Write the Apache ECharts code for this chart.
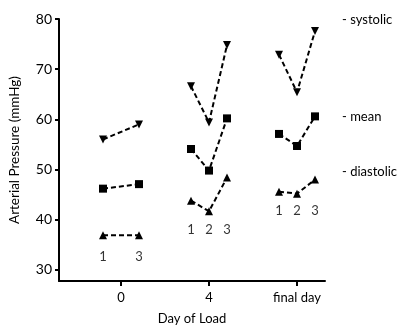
<!DOCTYPE html>
<html><head><meta charset="utf-8">
<script src="https://cdn.jsdelivr.net/npm/echarts@6/dist/echarts.min.js"></script>
<style>html,body{margin:0;padding:0;background:#fff}#c{width:405px;height:330px}</style>
</head><body><div id="c"></div>
<script>
const days = ['0', '4', 'final day'];
const subDays = [[1, 3], [1, 2, 3], [1, 2, 3]];
const systolic = [[56.0, 59.0], [66.6, 59.4, 74.8], [72.9, 65.4, 77.6]];
const mean = [[46.2, 47.1], [54.1, 49.8, 60.2], [57.1, 54.7, 60.6]];
const diastolic = [[36.9, 36.9], [43.8, 41.7, 48.4], [45.6, 45.2, 48.0]];
const yTicks = [30, 40, 50, 60, 70, 80];
const measureNames = ['systolic', 'mean', 'diastolic'];

// layout constants
const SUB_STEP = 0.2045;            // spacing of sub-days within a day group
const subLabelY = [32.6, 37.9, 41.7]; // vertical placement of the 1/2/3 labels
const FONT = 'Lato, "Open Sans", sans-serif';

function xOf(g, s) { return g + (s - 2) * SUB_STEP; }

const measures = [
  { name: 'systolic', data: systolic, symbol: 'triangle', rotate: 180, size: 8 },
  { name: 'mean', data: mean, symbol: 'rect', rotate: 0, size: 8 },
  { name: 'diastolic', data: diastolic, symbol: 'triangle', rotate: 0, size: 8 }
];

const series = [];
measures.forEach(m => {
  days.forEach((d, g) => {
    series.push({
      type: 'line',
      name: m.name,
      data: subDays[g].map((s, i) => [xOf(g, s), m.data[g][i]]),
      symbol: m.symbol,
      symbolRotate: m.rotate,
      symbolSize: m.size,
      showAllSymbol: true,
      itemStyle: { color: '#000' },
      lineStyle: { color: '#000', width: 2, type: [5, 3] },
      silent: true,
      animation: false,
      z: 3
    });
  });
});

// sub-day labels
const labelData = [];
days.forEach((d, g) => {
  subDays[g].forEach(s => labelData.push({ value: [xOf(g, s), subLabelY[g]], name: String(s) }));
});
series.push({
  type: 'scatter',
  data: labelData,
  symbolSize: 0,
  silent: true,
  animation: false,
  label: {
    show: true, position: 'inside', formatter: p => p.name,
    color: '#000', fontSize: 13, fontFamily: FONT
  }
});

const option = {
  backgroundColor: '#fff',
  animation: false,
  grid: { left: 59, right: 80, top: 19, bottom: 47, containLabel: false },
  xAxis: {
    type: 'value', min: -0.7045, max: 2.318,
    splitLine: { show: false },
    axisLine: { onZero: false, lineStyle: { color: '#000', width: 2 } },
    axisTick: { show: true, customValues: [0, 1, 2], length: 5, lineStyle: { color: '#000', width: 2 } },
    axisLabel: {
      customValues: [0, 1, 2], formatter: v => days[Math.round(v)],
      color: '#000', fontSize: 13, fontFamily: FONT, margin: 10
    },
    name: 'Day of Load', nameLocation: 'middle', nameGap: 31,
    nameTextStyle: { color: '#000', fontSize: 13, fontFamily: FONT }
  },
  yAxis: {
    type: 'value', min: 27.8, max: 80,
    splitLine: { show: false },
    axisLine: { show: true, onZero: false, lineStyle: { color: '#000', width: 2 } },
    axisTick: { show: true, customValues: yTicks, length: 4, lineStyle: { color: '#000', width: 2 } },
    axisLabel: {
      customValues: yTicks, color: '#000', fontSize: 14, fontFamily: FONT, margin: 7
    },
    name: 'Arterial Pressure (mmHg)', nameLocation: 'middle', nameGap: 37,
    nameTextStyle: { color: '#000', fontSize: 13.5, fontFamily: FONT }
  },
  graphic: [
    { type: 'text', left: 342, top: 13, style: { text: '- ' + measureNames[0], fill: '#000', font: '13px ' + FONT } },
    { type: 'text', left: 342, top: 110, style: { text: '- ' + measureNames[1], fill: '#000', font: '13px ' + FONT } },
    { type: 'text', left: 342, top: 165, style: { text: '- ' + measureNames[2], fill: '#000', font: '13px ' + FONT } }
  ],
  series: series
};

const chart = echarts.init(document.getElementById('c'), null, { renderer: 'canvas' });
chart.setOption(option);
</script>
</body></html>
